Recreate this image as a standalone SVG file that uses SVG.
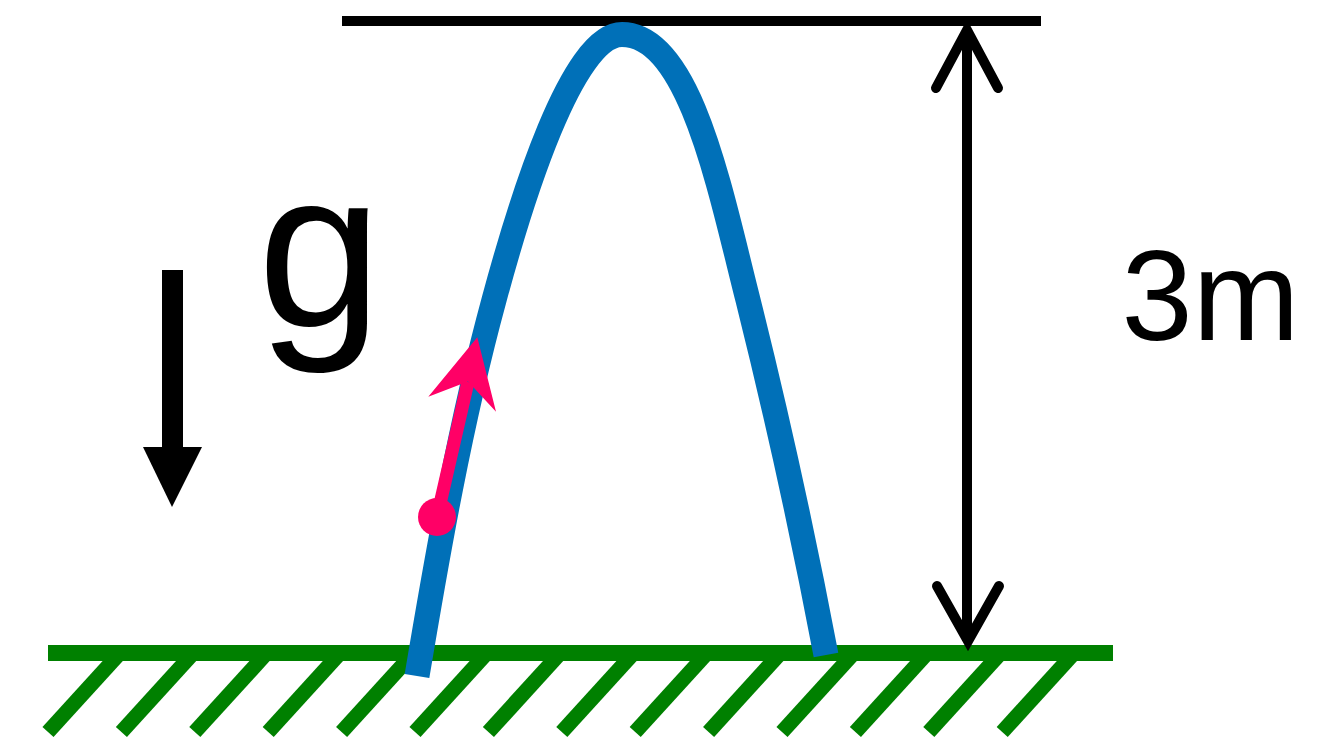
<svg xmlns="http://www.w3.org/2000/svg" width="1327" height="739" viewBox="0 0 1327 739">
<style>
.ground{stroke:#008000;stroke-width:16;fill:none}
.hatch{stroke:#008000;stroke-width:15;fill:none}
.traj{stroke:#0070B8;stroke-width:25;fill:none;stroke-linecap:butt}
.dim{stroke:#000;stroke-width:10;fill:none}
.head{stroke:#000;stroke-width:10;fill:none;stroke-linecap:round;stroke-linejoin:miter;stroke-miterlimit:10}
.lbl{font-family:"Liberation Sans",Arial,sans-serif;fill:#000}
.pink{fill:#FF0066}
</style>
<rect width="1327" height="739" fill="#fff"/>
<g id="ground">
<line class="ground" x1="48" y1="653" x2="1113" y2="653"/>
<g class="hatch">
<line x1="120" y1="653" x2="48" y2="732"/>
<line x1="193.4" y1="653" x2="121.4" y2="732"/>
<line x1="266.8" y1="653" x2="194.8" y2="732"/>
<line x1="340.2" y1="653" x2="268.2" y2="732"/>
<line x1="413.6" y1="653" x2="341.6" y2="732"/>
<line x1="487" y1="653" x2="415" y2="732"/>
<line x1="560.4" y1="653" x2="488.4" y2="732"/>
<line x1="633.8" y1="653" x2="561.8" y2="732"/>
<line x1="707.2" y1="653" x2="635.2" y2="732"/>
<line x1="780.6" y1="653" x2="708.6" y2="732"/>
<line x1="854" y1="653" x2="782" y2="732"/>
<line x1="927.4" y1="653" x2="855.4" y2="732"/>
<line x1="1000.8" y1="653" x2="928.8" y2="732"/>
<line x1="1074.2" y1="653" x2="1002.2" y2="732"/>
</g>
</g>
<g id="top-level">
<line x1="342" y1="21" x2="1041" y2="21" stroke="#000" stroke-width="10"/>
</g>
<g id="trajectory">
<path class="traj" d="M417,676 C438,551 460,425 494,300 C521,200 572,34.5 622,34.5 C690,34.5 720,190 748,300 C777.5,418 803.6,537 826,655"/>
</g>
<g id="connectors">
<g id="height-dimension">
<line class="dim" x1="967" y1="30" x2="967" y2="641"/>
<polyline class="head" points="936,88 967,30 998,88"/>
<polyline class="head" points="937,586 968,641 999,586"/>
</g>
<g id="gravity-arrow">
<rect x="162" y="270" width="21" height="178" fill="#000"/>
<polygon points="143,447 202,447 172,507" fill="#000"/>
</g>
<g id="velocity-arrow">
<line x1="437" y1="517" x2="468" y2="382" stroke="#FF0066" stroke-width="13"/>
<polygon class="pink" points="477.3,337.3 496,411.7 468,381.5 428.3,396.7"/>
<circle class="pink" cx="437" cy="517" r="19"/>
</g>
</g>
<g id="label-g">
<text class="lbl" x="257.6" y="325.5" font-size="224">g</text>
</g>
<g id="label-3m">
<text class="lbl" x="1121.5" y="340" font-size="128">3m</text>
</g>
</svg>
